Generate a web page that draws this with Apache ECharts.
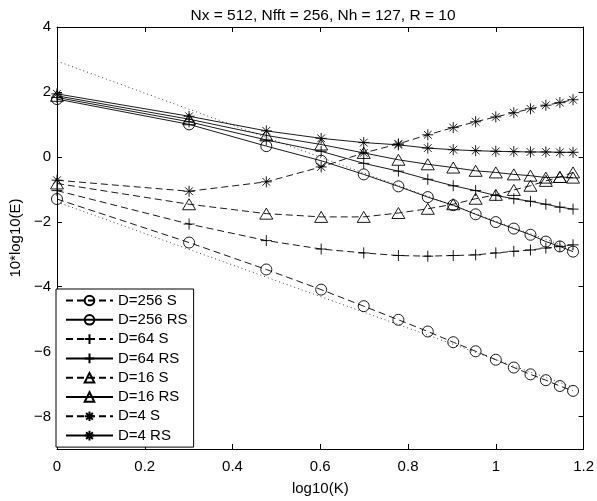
<!DOCTYPE html>
<html>
<head>
<meta charset="utf-8">
<script src="https://cdn.jsdelivr.net/npm/echarts@6/dist/echarts.min.js"></script>
<style>
  html, body { margin: 0; padding: 0; background: #fff; }
  #chart { width: 597px; height: 501px; }
</style>
</head>
<body>
<div id="chart"></div>
<script>
// x positions: log10(K), K = 1..15
var logK = [0, 0.301, 0.477, 0.602, 0.699, 0.778, 0.845, 0.903, 0.954, 1.0, 1.041, 1.079, 1.114, 1.146, 1.176];

var d256S  = [-1.30, -2.64, -3.47, -4.09, -4.60, -5.02, -5.38, -5.71, -5.99, -6.25, -6.49, -6.70, -6.88, -7.06, -7.21];
var d256RS = [1.78, 1.00, 0.33, -0.12, -0.54, -0.91, -1.24, -1.49, -1.77, -2.01, -2.21, -2.40, -2.61, -2.76, -2.92];
var d64S   = [-1.04, -2.07, -2.58, -2.84, -2.96, -3.04, -3.06, -3.04, -3.02, -2.96, -2.91, -2.87, -2.81, -2.76, -2.71];
var d64RS  = [1.83, 1.08, 0.52, 0.17, -0.20, -0.44, -0.69, -0.89, -1.04, -1.19, -1.29, -1.37, -1.46, -1.55, -1.61];
var d16S   = [-0.82, -1.46, -1.75, -1.85, -1.85, -1.73, -1.60, -1.46, -1.29, -1.17, -1.02, -0.89, -0.74, -0.62, -0.48];
var d16RS  = [1.88, 1.16, 0.66, 0.38, 0.12, -0.09, -0.23, -0.33, -0.43, -0.48, -0.54, -0.58, -0.64, -0.62, -0.64];
var d4S    = [-0.72, -1.06, -0.77, -0.31, 0.12, 0.40, 0.68, 0.90, 1.08, 1.23, 1.36, 1.48, 1.59, 1.67, 1.76];
var d4RS   = [1.94, 1.25, 0.80, 0.57, 0.44, 0.37, 0.27, 0.22, 0.19, 0.17, 0.16, 0.15, 0.15, 0.14, 0.14];

// dotted reference lines (end points)
var refX = [0, 1.176];
var refUpper = [2.95, -2.85];
var refLower = [-1.39, -7.1];

var yTicks = [-8, -6, -4, -2, 0, 2, 4];

var FONT = '"Liberation Sans", Arial, sans-serif';
var PLUS = 'path://M0,-5L0,5M-5,0L5,0';
var STAR = 'path://M0,-5L0,5M-5,0L5,0M-3.5,-3.5L3.5,3.5M-3.5,3.5L3.5,-3.5';

function pairs(xs, ys) {
    var out = [];
    for (var i = 0; i < ys.length; i++) out.push([xs[i], ys[i]]);
    return out;
}

function mkSeries(name, ys, dashed, symbol, size) {
    return {
        name: name,
        type: 'line',
        data: pairs(logK, ys),
        symbol: symbol,
        symbolSize: size,
        showSymbol: true,
        animation: false,
        lineStyle: { color: '#000', width: 0.9, type: dashed ? [7, 4] : 'solid' },
        itemStyle: { color: 'rgba(0,0,0,0)', borderColor: '#000', borderWidth: 0.9 },
        emphasis: { disabled: true }
    };
}

function minus(v) {
    return String(v).replace('-', '\u2212');
}

var chart = echarts.init(document.getElementById('chart'));

var option = {
    animation: false,
    title: {
        text: 'Nx = 512, Nfft = 256, Nh = 127, R = 10',
        left: 318,
        textAlign: 'center',
        top: 3,
        textStyle: { fontFamily: FONT, fontSize: 15.5, fontWeight: 'normal', color: '#000' }
    },
    grid: { left: 45, right: 9, top: 27, bottom: 45 },
    legend: {
        orient: 'vertical',
        left: 56,
        top: 289,
        padding: [4, 6, 4, 9],
        itemWidth: 47,
        itemHeight: 12,
        itemGap: 4.3,
        backgroundColor: '#fff',
        borderColor: '#000',
        borderWidth: 1,
        borderRadius: 0,
        textStyle: { fontFamily: FONT, fontSize: 15, color: '#000' },
        data: ['D=256 S', 'D=256 RS', 'D=64 S', 'D=64 RS', 'D=16 S', 'D=16 RS', 'D=4 S', 'D=4 RS']
    },
    xAxis: [{
        type: 'value', min: 0, max: 1.2, interval: 0.2,
        position: 'bottom',
        name: 'log10(K)', nameLocation: 'middle', nameGap: 32,
        nameTextStyle: { fontFamily: FONT, fontSize: 15, color: '#000' },
        axisLine: { onZero: false, lineStyle: { color: '#000', width: 1 } },
        axisTick: { inside: true, length: 5, lineStyle: { color: '#000' } },
        axisLabel: { margin: 10, fontFamily: FONT, fontSize: 15, color: '#000' },
        splitLine: { show: false }
    }, {
        type: 'value', min: 0, max: 1.2, interval: 0.2,
        position: 'top',
        axisLine: { onZero: false, lineStyle: { color: '#000', width: 1 } },
        axisTick: { inside: true, length: 5, lineStyle: { color: '#000' } },
        axisLabel: { show: false },
        splitLine: { show: false }
    }],
    yAxis: [{
        type: 'value', min: -9, max: 4,
        position: 'left',
        name: '10*log10(E)', nameLocation: 'middle', nameGap: 31,
        nameTextStyle: { fontFamily: FONT, fontSize: 15, color: '#000' },
        axisLine: { show: true, onZero: false, lineStyle: { color: '#000', width: 1 } },
        axisTick: { show: true, inside: true, length: 5, customValues: yTicks, lineStyle: { color: '#000' } },
        axisLabel: { margin: 6, customValues: yTicks, fontFamily: FONT, fontSize: 15, color: '#000', formatter: minus },
        splitLine: { show: false }
    }, {
        type: 'value', min: -9, max: 4,
        position: 'right',
        axisLine: { show: true, onZero: false, lineStyle: { color: '#000', width: 1 } },
        axisTick: { show: true, inside: true, length: 5, customValues: yTicks, lineStyle: { color: '#000' } },
        axisLabel: { show: false },
        splitLine: { show: false }
    }],
    series: [
        {
            name: 'ref upper', type: 'line', data: pairs(refX, refUpper), showSymbol: false, symbol: 'none',
            lineStyle: { color: '#444', width: 1, type: [1, 3] }, z: 1
        },
        {
            name: 'ref lower', type: 'line', data: pairs(refX, refLower), showSymbol: false, symbol: 'none',
            lineStyle: { color: '#444', width: 1, type: [1, 3] }, z: 1
        },
        mkSeries('D=256 S', d256S, true, 'circle', 11),
        mkSeries('D=256 RS', d256RS, false, 'circle', 11),
        mkSeries('D=64 S', d64S, true, PLUS, 11),
        mkSeries('D=64 RS', d64RS, false, PLUS, 11),
        mkSeries('D=16 S', d16S, true, 'triangle', [13, 11]),
        mkSeries('D=16 RS', d16RS, false, 'triangle', [13, 11]),
        mkSeries('D=4 S', d4S, true, STAR, 11),
        mkSeries('D=4 RS', d4RS, false, STAR, 11)
    ]
};

chart.setOption(option);
</script>
</body>
</html>
